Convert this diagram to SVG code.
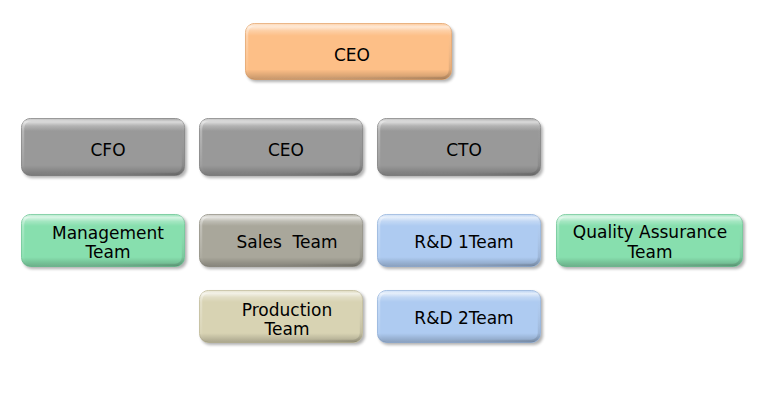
<svg xmlns="http://www.w3.org/2000/svg" width="758" height="402" viewBox="0 0 758 402">
<style>
.box{stroke-width:1}
.ceo{fill:#FDBF87;stroke:#E8AD78}
.gry{fill:#999999;stroke:#8C8C8C}
.grn{fill:#87DFAE;stroke:#78CC9E}
.sls{fill:#A9A79B;stroke:#9A988D}
.prd{fill:#D8D3B3;stroke:#C6C1A2}
.blu{fill:#AECBF1;stroke:#9DBAE0}
.gloss{fill:url(#gl);stroke:none}
.edge{fill:none;stroke:url(#eg);stroke-width:2.5}
.sh{fill:#000;opacity:0.3;filter:url(#blur)}
text{font-family:"DejaVu Sans","Liberation Sans",sans-serif;font-size:17px;fill:#000;text-anchor:middle}
</style>
<defs>
<filter id="blur" x="-10%" y="-20%" width="120%" height="140%"><feGaussianBlur stdDeviation="1.6"/></filter>
<linearGradient id="gl" x1="0" y1="0" x2="0" y2="1">
<stop offset="0" stop-color="#fff" stop-opacity="0.1"/>
<stop offset="0.06" stop-color="#fff" stop-opacity="0.65"/>
<stop offset="0.13" stop-color="#fff" stop-opacity="0.25"/>
<stop offset="0.22" stop-color="#fff" stop-opacity="0"/>
<stop offset="0.82" stop-color="#000" stop-opacity="0"/>
<stop offset="1" stop-color="#000" stop-opacity="0.22"/>
</linearGradient>
<linearGradient id="eg" x1="0" y1="0" x2="1" y2="1">
<stop offset="0" stop-color="#fff" stop-opacity="0.35"/>
<stop offset="0.5" stop-color="#fff" stop-opacity="0"/>
<stop offset="1" stop-color="#000" stop-opacity="0.15"/>
</linearGradient>
</defs>
<g id="connectors"/>
<g id="n-ceo">
<rect class="sh" x="247" y="26" width="207" height="56" rx="9"/>
<rect class="box ceo" x="245.5" y="23.5" width="206" height="56" rx="9"/>
<rect class="gloss" x="245.5" y="23.5" width="206" height="56" rx="9"/>
<rect class="edge" x="247" y="25" width="203" height="53" rx="8"/>
<text x="352" y="61">CEO</text>
</g>
<g id="n-cfo">
<rect class="sh" x="23" y="121" width="164" height="57" rx="9"/>
<rect class="box gry" x="21.5" y="118.5" width="163" height="57" rx="9"/>
<rect class="gloss" x="21.5" y="118.5" width="163" height="57" rx="9"/>
<rect class="edge" x="23" y="120" width="160" height="54" rx="8"/>
<text x="108" y="156">CFO</text>
</g>
<g id="n-ceo2">
<rect class="sh" x="201" y="121" width="164" height="57" rx="9"/>
<rect class="box gry" x="199.5" y="118.5" width="163" height="57" rx="9"/>
<rect class="gloss" x="199.5" y="118.5" width="163" height="57" rx="9"/>
<rect class="edge" x="201" y="120" width="160" height="54" rx="8"/>
<text x="286" y="156">CEO</text>
</g>
<g id="n-cto">
<rect class="sh" x="379" y="121" width="164" height="57" rx="9"/>
<rect class="box gry" x="377.5" y="118.5" width="163" height="57" rx="9"/>
<rect class="gloss" x="377.5" y="118.5" width="163" height="57" rx="9"/>
<rect class="edge" x="379" y="120" width="160" height="54" rx="8"/>
<text x="464" y="156">CTO</text>
</g>
<g id="n-mgmt">
<rect class="sh" x="23" y="216" width="164" height="53" rx="9"/>
<rect class="box grn" x="21.5" y="214.5" width="163" height="52" rx="9"/>
<rect class="gloss" x="21.5" y="214.5" width="163" height="52" rx="9"/>
<rect class="edge" x="23" y="216" width="160" height="49" rx="8"/>
<text x="108" y="239">Management</text>
<text x="108" y="258">Team</text>
</g>
<g id="n-sales">
<rect class="sh" x="201" y="216" width="164" height="53" rx="9"/>
<rect class="box sls" x="199.5" y="214.5" width="163" height="52" rx="9"/>
<rect class="gloss" x="199.5" y="214.5" width="163" height="52" rx="9"/>
<rect class="edge" x="201" y="216" width="160" height="49" rx="8"/>
<text x="287" y="248" xml:space="preserve">Sales  Team</text>
</g>
<g id="n-rd1">
<rect class="sh" x="379" y="216" width="164" height="53" rx="9"/>
<rect class="box blu" x="377.5" y="214.5" width="163" height="52" rx="9"/>
<rect class="gloss" x="377.5" y="214.5" width="163" height="52" rx="9"/>
<rect class="edge" x="379" y="216" width="160" height="49" rx="8"/>
<text x="464" y="248">R&amp;D 1Team</text>
</g>
<g id="n-qa">
<rect class="sh" x="558" y="216" width="187" height="53" rx="9"/>
<rect class="box grn" x="556.5" y="214.5" width="186" height="52" rx="9"/>
<rect class="gloss" x="556.5" y="214.5" width="186" height="52" rx="9"/>
<rect class="edge" x="558" y="216" width="183" height="49" rx="8"/>
<text x="650" y="238">Quality Assurance</text>
<text x="650" y="258">Team</text>
</g>
<g id="n-prod">
<rect class="sh" x="201" y="292" width="164" height="53" rx="9"/>
<rect class="box prd" x="199.5" y="290.5" width="163" height="52" rx="9"/>
<rect class="gloss" x="199.5" y="290.5" width="163" height="52" rx="9"/>
<rect class="edge" x="201" y="292" width="160" height="49" rx="8"/>
<text x="287" y="316">Production</text>
<text x="287" y="335">Team</text>
</g>
<g id="n-rd2">
<rect class="sh" x="379" y="292" width="164" height="53" rx="9"/>
<rect class="box blu" x="377.5" y="290.5" width="163" height="52" rx="9"/>
<rect class="gloss" x="377.5" y="290.5" width="163" height="52" rx="9"/>
<rect class="edge" x="379" y="292" width="160" height="49" rx="8"/>
<text x="464" y="324">R&amp;D 2Team</text>
</g>
</svg>
